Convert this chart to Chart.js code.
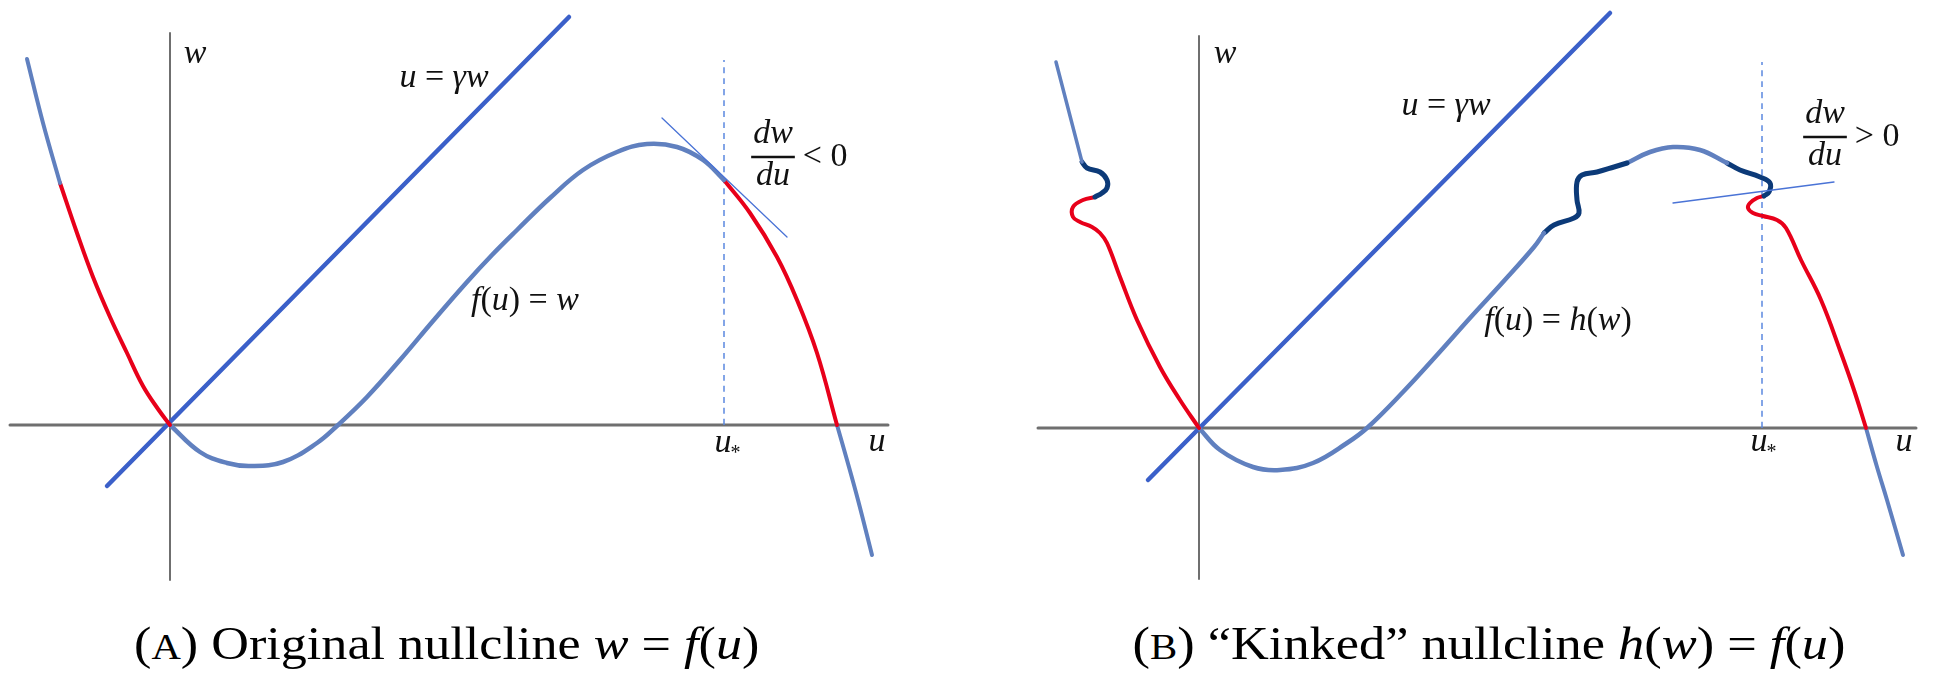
<!DOCTYPE html>
<html>
<head>
<meta charset="utf-8">
<script src="https://cdn.jsdelivr.net/npm/chart.js@4.4.1/dist/chart.umd.min.js"></script>
<style>
  html, body { margin: 0; padding: 0; background: #fff; }
  #wrap { position: relative; width: 1934px; height: 687px; overflow: hidden; }
  .panel { position: absolute; top: 0; width: 967px; height: 600px; }
  .cap { position: absolute; top: 621px; left: 0; font-family: "Liberation Serif", "DejaVu Serif", serif; font-size: 46px;
         line-height: 46px; white-space: nowrap; color: #000; transform-origin: center top; }
  .cap i { font-style: italic; }
  .sc { font-size: 0.78em; }
</style>
</head>
<body>
<div id="wrap">
  <div class="panel" style="left:0"><canvas id="panelA" width="967" height="600"></canvas></div>
  <div class="panel" style="left:967px"><canvas id="panelB" width="967" height="600"></canvas></div>
  <div class="cap" id="capA">(<span class="sc">A</span>) Original nullcline <i>w</i> = <i>f</i>(<i>u</i>)</div>
  <div class="cap" id="capB">(<span class="sc">B</span>) “Kinked” nullcline <i>h</i>(<i>w</i>) = <i>f</i>(<i>u</i>)</div>
</div>
<script>
// ---- panel A: original nullcline, points are [u, w] ----
const aAxisU = [[-1.60, 0], [7.18, 0]];
const aAxisW = [[0, -1.55], [0, 3.92]];
const aGamma = [[-0.63, -0.61], [3.99, 4.08]];
const aUstar = [[5.54, 0], [5.54, 3.65]];
const aTangent = [[4.92, 3.07], [6.17, 1.88]];
const aLeftTop = [[-1.43, 3.66], [-1.27, 3.02], [-1.10, 2.42]];
const aLeftRed = [[-1.10, 2.42], [-0.93, 1.92], [-0.77, 1.48], [-0.60, 1.08], [-0.43, 0.72], [-0.27, 0.39], [-0.12, 0.16], [0, 0]];
const aMiddle = [[0, 0], [0.30, -0.27], [0.57, -0.38], [0.80, -0.41], [1.13, -0.37], [1.47, -0.18], [1.68, 0],
                 [1.97, 0.28], [2.30, 0.65], [2.63, 1.04], [2.97, 1.43], [3.22, 1.70], [3.47, 1.95], [3.80, 2.27],
                 [4.13, 2.55], [4.47, 2.73], [4.77, 2.81], [5.07, 2.78], [5.33, 2.65], [5.54, 2.45]];
const aRightRed = [[5.54, 2.45], [5.80, 2.12], [6.07, 1.68], [6.27, 1.25], [6.47, 0.72], [6.67, 0]];
const aTail = [[6.67, 0], [6.77, -0.35], [6.88, -0.75], [7.02, -1.30]];

// ---- panel B: kinked nullcline ----
const bAxisU = [[-1.61, 0], [7.17, 0]];
const bAxisW = [[0, -1.51], [0, 3.92]];
const bGamma = [[-0.51, -0.52], [4.11, 4.15]];
const bUstar = [[5.63, 0], [5.63, 3.66]];
const bTangent = [[4.74, 2.25], [6.35, 2.46]];
const bLeftTop = [[-1.43, 3.66], [-1.30, 3.16], [-1.17, 2.66]];
const bLeftKink = [[-1.17, 2.66], [-1.12, 2.60], [-0.99, 2.56], [-0.92, 2.48], [-0.92, 2.40], [-0.97, 2.35], [-1.04, 2.31]];
const bLeftRed = [[-1.04, 2.31], [-1.16, 2.28], [-1.26, 2.21], [-1.26, 2.11], [-1.19, 2.06], [-1.07, 2.01], [-0.99, 1.95],
                  [-0.92, 1.85], [-0.79, 1.51], [-0.62, 1.08], [-0.39, 0.61], [-0.19, 0.28], [0, 0]];
const bMiddle = [[0, 0], [0.21, -0.22], [0.54, -0.39], [0.81, -0.42], [1.14, -0.35], [1.48, -0.15], [1.68, 0],
                 [2.04, 0.36], [2.38, 0.73], [2.71, 1.10], [3.04, 1.46], [3.35, 1.81], [3.45, 1.95]];
const bKinkOne = [[3.45, 1.95], [3.55, 2.03], [3.75, 2.10], [3.80, 2.15], [3.78, 2.28], [3.78, 2.46], [3.83, 2.53],
                  [3.98, 2.56], [4.15, 2.61], [4.28, 2.65]];
const bHump = [[4.28, 2.65], [4.51, 2.76], [4.74, 2.81], [5.01, 2.78], [5.28, 2.65]];
const bKinkTwo = [[5.28, 2.65], [5.41, 2.58], [5.61, 2.51], [5.71, 2.45], [5.70, 2.36], [5.65, 2.32]];
const bRightRed = [[5.65, 2.32], [5.58, 2.30], [5.51, 2.25], [5.49, 2.20], [5.54, 2.15], [5.64, 2.12], [5.78, 2.08],
                   [5.87, 2.00], [6.02, 1.68], [6.22, 1.28], [6.42, 0.75], [6.55, 0.38], [6.67, 0]];
const bTail = [[6.67, 0], [6.78, -0.39], [6.88, -0.72], [7.04, -1.27]];

// labels, anchored at [u, w] (text baseline)
const aLabels = [
  { text: 'w', u: 0.25, w: 3.62 },
  { text: 'u = γw', u: 2.74, w: 3.38 },
  { text: 'f(u) = w', u: 3.55, w: 1.15 },
  { text: 'u', sub: '*', u: 5.53, w: -0.27 },
  { text: 'u', u: 7.07, w: -0.26 },
  { frac: ['dw', 'du'], tail: '< 0', u: 6.03, w: 2.68 }
];
const bLabels = [
  { text: 'w', u: 0.26, w: 3.65 },
  { text: 'u = γw', u: 2.47, w: 3.13 },
  { text: 'f(u) = h(w)', u: 3.59, w: 0.98 },
  { text: 'u', sub: '*', u: 5.60, w: -0.23 },
  { text: 'u', u: 7.05, w: -0.23 },
  { frac: ['dw', 'du'], tail: '> 0', u: 6.26, w: 2.91 }
];

const AXIS = '#6f6f6f', GAMMA = '#3b60c9', CUBIC = '#6080bf', RED = '#e8001a', NAVY = '#0c3a78';
const DASH = '#5b88df', TANGENT = '#4a73d6';
const FONT = '"Liberation Serif", "DejaVu Serif", serif';
const SIZE = 34;

function seg(points, color, width, extra) {
  return Object.assign({
    data: points.map(p => ({ x: p[0], y: p[1] })),
    showLine: true,
    borderColor: color,
    borderWidth: width,
    pointRadius: 0,
    tension: 0.4,
    fill: false,
    borderCapStyle: 'round',
    borderJoinStyle: 'round',
    order: 1
  }, extra || {});
}

function drawMath(ctx, text, x, y, size, align) {
  const runs = [];
  for (const ch of text) runs.push({ ch: ch, it: /[a-zγ]/i.test(ch) });
  const fontOf = r => (r.it ? 'italic ' : '') + size + 'px ' + FONT;
  let total = 0;
  runs.forEach(r => { ctx.font = fontOf(r); r.w = ctx.measureText(r.ch).width; total += r.w; });
  let cx = align === 'left' ? x : x - total / 2;
  runs.forEach(r => { ctx.font = fontOf(r); ctx.fillText(r.ch, cx, y); cx += r.w; });
  return cx;
}

const mathLabels = {
  id: 'mathLabels',
  afterDatasetsDraw(chart, args, opts) {
    const ctx = chart.ctx, xs = chart.scales.x, ys = chart.scales.y;
    ctx.save();
    ctx.fillStyle = '#111';
    ctx.strokeStyle = '#111';
    ctx.textAlign = 'left';
    ctx.textBaseline = 'alphabetic';
    (opts.items || []).forEach(item => {
      const px = xs.getPixelForValue(item.u), py = ys.getPixelForValue(item.w);
      if (item.frac) {
        ctx.font = 'italic ' + SIZE + 'px ' + FONT;
        const bw = Math.max(ctx.measureText(item.frac[0]).width, ctx.measureText(item.frac[1]).width) + 4;
        ctx.lineWidth = 2.5;
        ctx.beginPath();
        ctx.moveTo(px - bw / 2, py);
        ctx.lineTo(px + bw / 2, py);
        ctx.stroke();
        drawMath(ctx, item.frac[0], px, py - 0.42 * SIZE, SIZE);
        drawMath(ctx, item.frac[1], px, py + 0.82 * SIZE, SIZE);
        drawMath(ctx, item.tail, px + bw / 2 + 8, py + 0.27 * SIZE, SIZE, 'left');
      } else {
        const end = drawMath(ctx, item.text, px, py, SIZE);
        if (item.sub) {
          ctx.font = Math.round(SIZE * 0.6) + 'px ' + FONT;
          ctx.fillText(item.sub, end - 1, py + 0.22 * SIZE);
        }
      }
    });
    ctx.restore();
  }
};

function makePanel(id, range, sets, labels) {
  new Chart(document.getElementById(id), {
    type: 'scatter',
    data: { datasets: sets },
    options: {
      responsive: false,
      animation: false,
      devicePixelRatio: 1,
      layout: { padding: 0 },
      scales: {
        x: { type: 'linear', min: range[0], max: range[1], display: false },
        y: { type: 'linear', min: range[2], max: range[3], display: false }
      },
      plugins: {
        legend: { display: false },
        tooltip: { enabled: false },
        mathLabels: { items: labels }
      }
    },
    plugins: [mathLabels]
  });
}

makePanel('panelA', [-1.70, 7.97, -1.75, 4.25], [
  seg(aAxisU, AXIS, 3, { order: 9 }),
  seg(aAxisW, AXIS, 2, { order: 9 }),
  seg(aUstar, DASH, 1.5, { borderDash: [6, 5], borderCapStyle: 'butt', order: 8 }),
  seg(aTangent, TANGENT, 1.3, { order: 0 }),
  seg(aGamma, GAMMA, 4.5, { order: 2 }),
  seg(aLeftTop, CUBIC, 4),
  seg(aLeftRed, RED, 4),
  seg(aMiddle, CUBIC, 4.5),
  seg(aRightRed, RED, 4),
  seg(aTail, CUBIC, 4)
], aLabels);

makePanel('panelB', [-2.32, 7.35, -1.72, 4.28], [
  seg(bAxisU, AXIS, 3, { order: 9 }),
  seg(bAxisW, AXIS, 2, { order: 9 }),
  seg(bUstar, DASH, 1.5, { borderDash: [6, 5], borderCapStyle: 'butt', order: 8 }),
  seg(bTangent, TANGENT, 1.3, { order: 0 }),
  seg(bGamma, GAMMA, 4.5, { order: 2 }),
  seg(bLeftTop, CUBIC, 3.5),
  seg(bLeftKink, NAVY, 5),
  seg(bLeftRed, RED, 4),
  seg(bMiddle, CUBIC, 4.5),
  seg(bKinkOne, NAVY, 5),
  seg(bHump, CUBIC, 4.5),
  seg(bKinkTwo, NAVY, 5),
  seg(bRightRed, RED, 4),
  seg(bTail, CUBIC, 4)
], bLabels);

// captions: centre under each panel and fit to the width they take in the figure
function fitCaption(id, left, right) {
  const el = document.getElementById(id);
  const w = el.offsetWidth;
  el.style.left = ((left + right) / 2 - w / 2) + 'px';
  el.style.transform = 'scaleX(' + ((right - left) / w).toFixed(3) + ')';
}
fitCaption('capA', 134, 759);
fitCaption('capB', 1132, 1845);
</script>
</body>
</html>
